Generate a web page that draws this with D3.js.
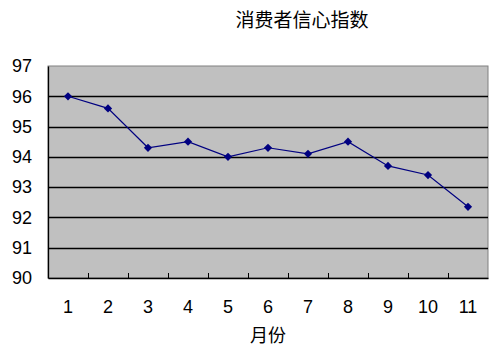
<!DOCTYPE html>
<html>
<head>
<meta charset="utf-8">
<script src="https://cdn.jsdelivr.net/npm/d3@7"></script>
<style>
  body { margin: 0; background: #fff; }
  svg { display: block; }
  .tick text { font-family: "Liberation Sans", "DejaVu Sans", sans-serif; fill: #000; }
</style>
</head>
<body>
<div id="chart"></div>
<script>
// chart data
const months = ['1', '2', '3', '4', '5', '6', '7', '8', '9', '10', '11'];
const confidence = [96.0, 95.6, 94.3, 94.5, 94.0, 94.3, 94.1, 94.5, 93.7, 93.4, 92.35];
const yTicks = [90, 91, 92, 93, 94, 95, 96, 97];
const titleText = '消费者信心指数';
const xLabel = '月份';

const width = 500, height = 352;
const margin = { top: 66, right: 12, bottom: 74, left: 48 };
const w = width - margin.left - margin.right;
const h = height - margin.top - margin.bottom;

const svg = d3.select('#chart').append('svg')
  .attr('width', width)
  .attr('height', height);

const g = svg.append('g')
  .attr('transform', 'translate(' + margin.left + ',' + margin.top + ')');

const x = d3.scaleBand().domain(months).range([0, w]);
const y = d3.scaleLinear().domain([90, 97]).range([h, 0]);

// plot area
g.append('rect')
  .attr('width', w)
  .attr('height', h)
  .attr('fill', '#c0c0c0')
  .attr('stroke', '#808080')
  .attr('stroke-width', 1);

// horizontal gridlines
g.append('g')
  .selectAll('line')
  .data(yTicks.filter(d => d > 90 && d < 97))
  .join('line')
  .attr('x1', 0)
  .attr('x2', w)
  .attr('y1', d => Math.round(y(d)) + 0.5)
  .attr('y2', d => Math.round(y(d)) + 0.5)
  .attr('stroke', '#000')
  .attr('stroke-width', 1.3);

// y axis
const yAxis = g.append('g')
  .call(d3.axisLeft(y).tickValues(yTicks).tickFormat(d3.format('d')).tickSize(0).tickPadding(16));
yAxis.select('.domain').attr('stroke', '#000').attr('stroke-width', 1.3);
yAxis.selectAll('.tick text').attr('font-size', 18);

// x axis, ticks between categories pointing inside
const xAxis = g.append('g')
  .attr('transform', 'translate(0,' + h + ')')
  .call(d3.axisBottom(x).tickSize(0).tickPadding(22));
xAxis.select('.domain').attr('stroke', '#000').attr('stroke-width', 1.3);
xAxis.selectAll('.tick text').attr('font-size', 18);
xAxis.append('g')
  .selectAll('line')
  .data(months.slice(1))
  .join('line')
  .attr('x1', d => Math.round(x(d)) + 0.5)
  .attr('x2', d => Math.round(x(d)) + 0.5)
  .attr('y1', 0)
  .attr('y2', -5)
  .attr('stroke', '#000');

// data line
const line = d3.line()
  .x((d, i) => x(months[i]) + x.bandwidth() / 2)
  .y(d => y(d));

g.append('path')
  .datum(confidence)
  .attr('fill', 'none')
  .attr('stroke', '#000080')
  .attr('stroke-width', 1.2)
  .attr('d', line);

// diamond markers: squares turned 45 degrees
g.append('g')
  .selectAll('path')
  .data(confidence)
  .join('path')
  .attr('transform', (d, i) => 'translate(' + (x(months[i]) + x.bandwidth() / 2) + ',' + y(d) + ') rotate(45)')
  .attr('d', d3.symbol().type(d3.symbolSquare).size(34))
  .attr('fill', '#000080');

// title
svg.append('text')
  .attr('x', 302)
  .attr('y', 27)
  .attr('text-anchor', 'middle')
  .attr('font-family', '"Noto Sans CJK SC", sans-serif')
  .attr('font-size', 19)
  .text(titleText);

// x axis label
svg.append('text')
  .attr('x', margin.left + w / 2)
  .attr('y', 342)
  .attr('text-anchor', 'middle')
  .attr('font-family', '"Noto Sans CJK SC", sans-serif')
  .attr('font-size', 18)
  .text(xLabel);
</script>
</body>
</html>
